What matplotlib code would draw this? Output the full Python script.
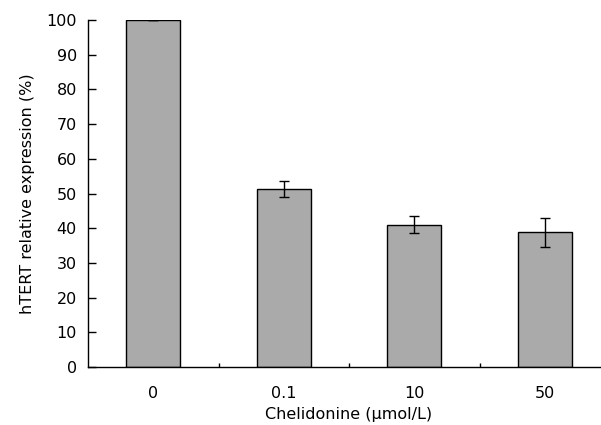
import matplotlib.pyplot as plt
import numpy as np

# Data
doses = ['0', '0.1', '10', '50']
expression = [100, 51.2, 41.0, 38.8]
errors = [0.0, 2.3, 2.5, 4.1]

fig = plt.figure(figsize=(6.01, 4.25), dpi=100)
ax = fig.add_axes([88 / 601, 1 - 367 / 425, (610 - 88) / 601, (367 - 20) / 425])

x = np.arange(len(doses))
ax.bar(x, expression, width=0.41, color='#a9aaa9', edgecolor='black', linewidth=1.0,
       yerr=errors, capsize=3.6, error_kw=dict(elinewidth=1.0, capthick=1.0, ecolor='black'))

ax.set_xlim(-0.5, 3.5)
ax.set_ylim(0, 100)
ax.set_yticks(range(0, 101, 10))
ax.set_xticks(x)
ax.set_xticklabels(doses)
ax.set_xticks([0.5, 1.5, 2.5], minor=True)

ax.tick_params(axis='y', direction='in', length=6, width=1.0, labelsize=11.5, pad=8)
ax.tick_params(axis='x', which='major', length=0, labelsize=11.5, pad=14)
ax.tick_params(axis='x', which='minor', direction='in', length=3, width=1.0)

for side in ['top', 'right']:
    ax.spines[side].set_visible(False)
for side in ['left', 'bottom']:
    ax.spines[side].set_linewidth(1.0)

ax.set_xlabel('Chelidonine (\u03bcmol/L)', fontsize=11.5, labelpad=4)
ax.set_ylabel('hTERT relative expression (%)', fontsize=11.5, labelpad=8)

plt.savefig('out.png', dpi=100)
